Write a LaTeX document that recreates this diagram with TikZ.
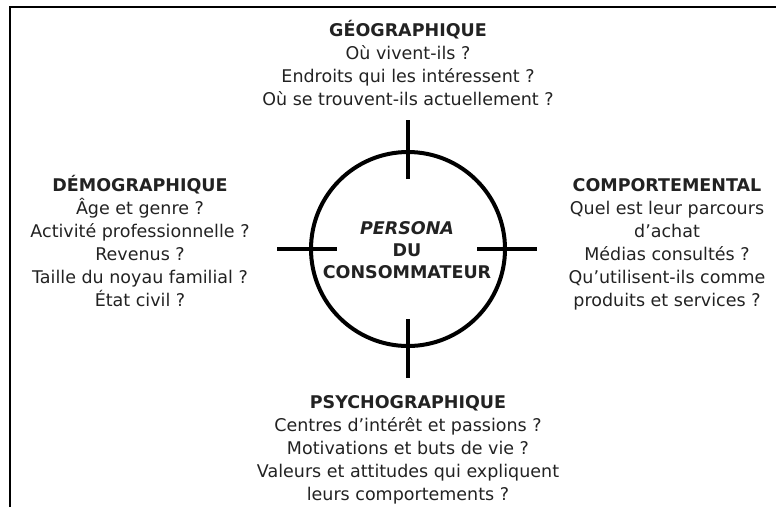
\documentclass[tikz,border=0pt]{standalone}
\usepackage{fontspec}
\setmainfont{DejaVu Sans}
\definecolor{txt}{HTML}{222222}
\tikzset{
  block/.style={inner sep=0pt, align=center, text=txt, anchor=base, font=\fontsize{17.5}{23}\selectfont},
  tick/.style={line width=4.5pt, draw=black},
}
\begin{document}
\begin{tikzpicture}[x=1pt,y=-1pt]
\useasboundingbox (0,0) rectangle (776,507);
\coordinate (fbl) at (10,507);
\coordinate (ftl) at (10,7);
\coordinate (ftr) at (776,7);
\draw[line width=2pt] (fbl) -- (ftl) -- (ftr);
\node[circle, draw=black, line width=4pt, minimum size=194pt, inner sep=0pt] (c) at (408,249) {};
\draw[tick] ([yshift=-29pt]c.north) -- ([yshift=30pt]c.north);
\draw[tick] ([yshift=-30pt]c.south) -- ([yshift=29pt]c.south);
\draw[tick] ([xshift=-32pt]c.west) -- ([xshift=28pt]c.west);
\draw[tick] ([xshift=-30pt]c.east) -- ([xshift=30pt]c.east);
\node[block, font=\bfseries\fontsize{17.5}{22}\selectfont] (center) at (407,278)
  {\textit{PERSONA}\\DU\\CONSOMMATEUR};
\node[block] (geo) at (408,105)
  {\textbf{GÉOGRAPHIQUE}\\Où vivent-ils ?\\Endroits qui les intéressent ?\\Où se trouvent-ils actuellement ?};
\node[block] (demo) at (140,306)
  {\textbf{DÉMOGRAPHIQUE}\\Âge et genre ?\\Activité professionnelle ?\\Revenus ?\\Taille du noyau familial ?\\État civil ?};
\node[block] (comp) at (667,306)
  {\textbf{COMPORTEMENTAL}\\Quel est leur parcours\\d’achat\\Médias consultés ?\\Qu’utilisent-ils comme\\produits et services ?};
\node[block] (psy) at (408,500)
  {\textbf{PSYCHOGRAPHIQUE}\\Centres d’intérêt et passions ?\\Motivations et buts de vie ?\\Valeurs et attitudes qui expliquent\\leurs comportements ?};
\end{tikzpicture}
\end{document}
